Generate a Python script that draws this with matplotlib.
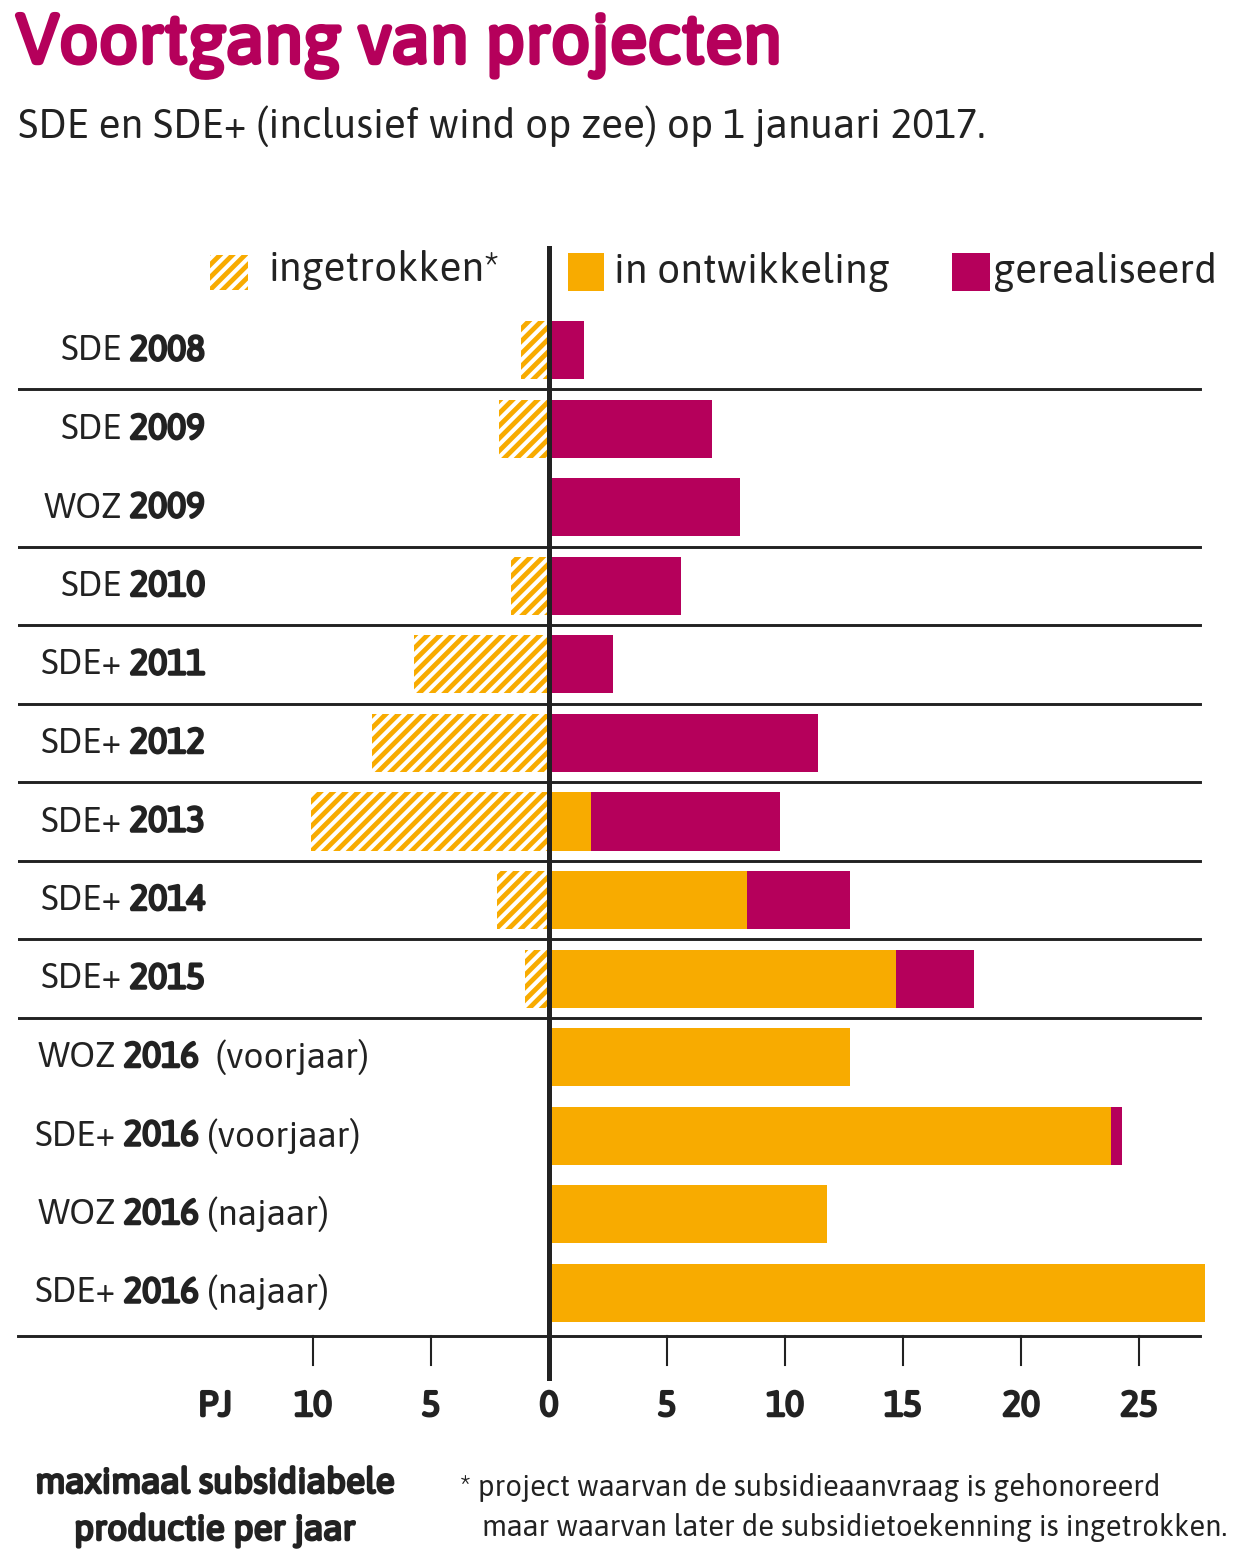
import matplotlib
matplotlib.use("Agg")
import matplotlib.pyplot as plt
import matplotlib.transforms as mtransforms
import matplotlib.patheffects as pe
from matplotlib.patches import Rectangle

plt.rcParams["font.family"] = ["Asap", "Asap Condensed", "DejaVu Sans"]
plt.rcParams["hatch.linewidth"] = 2.3

# ---------------------------------------------------------------------------
# Data (PJ per jaar)
# ---------------------------------------------------------------------------
regeling = ["SDE", "SDE", "WOZ", "SDE", "SDE+", "SDE+", "SDE+", "SDE+", "SDE+",
            "WOZ", "SDE+", "WOZ", "SDE+"]
jaar = ["2008", "2009", "2009", "2010", "2011", "2012", "2013", "2014", "2015",
        "2016", "2016", "2016", "2016"]
toevoeging = ["", "", "", "", "", "", "", "", "",
              " (voorjaar)", "(voorjaar)", "(najaar)", "(najaar)"]
ingetrokken = [1.2, 2.1, 0, 1.6, 5.7, 7.5, 10.1, 2.2, 1.0, 0, 0, 0, 0]
in_ontwikkeling = [0, 0, 0, 0, 0, 0, 1.8, 8.4, 14.7, 12.75, 23.8, 11.8, 27.8]
gerealiseerd = [1.5, 6.9, 8.1, 5.6, 2.7, 11.4, 8.0, 4.35, 3.3, 0, 0.5, 0, 0]
scheidingen = [0, 2, 3, 4, 5, 6, 7, 8]   # lijn onder deze rijen
xticks = [-10, -5, 5, 10, 15, 20, 25]

ORANJE = "#f8ab00"
MAGENTA = "#b5005b"
ZWART = "#222222"

W, H = 1248, 1568
DPI = 150


def fx(px):
    return px / W


def fy(py):
    return 1 - py / H


def vet(kleur=ZWART, lw=1.2):
    # de regular-snede iets aandikken (geen bold beschikbaar in deze breedte)
    return [pe.withStroke(linewidth=lw, foreground=kleur)]


fig = plt.figure(figsize=(W / DPI, H / DPI), dpi=DPI)

# assen: x=0 op pixel 549, 23.6 px per PJ; rijen 78.5 px uit elkaar
ax_l, ax_r, ax_t, ax_b = 18, 1210, 248, 1336
ax = fig.add_axes([fx(ax_l), fy(ax_b), fx(ax_r - ax_l), (ax_b - ax_t) / H])
ax.set_xlim((ax_l - 549) / 23.6, (ax_r - 549) / 23.6)
ax.set_ylim(12.55, -1.3)
ax.axis("off")

rijen = list(range(len(jaar)))
hoogte = 0.74
ax.barh(rijen, [-v for v in ingetrokken], height=hoogte, color="white",
        edgecolor=ORANJE, hatch="////", linewidth=0)
ax.barh(rijen, in_ontwikkeling, height=hoogte, color=ORANJE, linewidth=0)
ax.barh(rijen, gerealiseerd, left=in_ontwikkeling, height=hoogte,
        color=MAGENTA, linewidth=0)

x_rechts = (1200 - 549) / 23.6
for r in scheidingen:
    ax.plot([ax.get_xlim()[0], x_rechts], [r + 0.5, r + 0.5], color=ZWART, lw=1.4)
ax.plot([ax.get_xlim()[0], x_rechts], [12.55, 12.55], color=ZWART, lw=1.4,
        clip_on=False)
# nul-as
ax.plot([0, 0], [-1.3, 13.08], color=ZWART, lw=2.4, clip_on=False, zorder=5)

# schaalstreepjes en labels
trans = mtransforms.blended_transform_factory(ax.transData, fig.transFigure)
for t in xticks:
    ax.plot([t, t], [12.55, 12.92], color=ZWART, lw=1.0, clip_on=False)
for t in [-10, -5, 0, 5, 10, 15, 20, 25]:
    ax.text(t, fy(1406), str(abs(t)), transform=trans, ha="center", va="center",
            fontsize=17, color=ZWART, path_effects=vet())
fig.text(fx(215), fy(1406), "PJ", ha="center", va="center", fontsize=17,
         color=ZWART, path_effects=vet())

# rijlabels: jaar vet, rechts uitgelijnd
fig.canvas.draw()
renderer = fig.canvas.get_renderer()
for i in rijen:
    y = fy(350.5 + 78.5 * i)
    x_jaar = 205 if i < 9 else 199
    tj = fig.text(fx(x_jaar), y, jaar[i], ha="right", va="center", fontsize=17,
                  color=ZWART, path_effects=vet())
    x0 = tj.get_window_extent(renderer).x0
    fig.text(fx(x0 - 7), y, regeling[i], ha="right", va="center",
             fontsize=17, color=ZWART)
    if toevoeging[i]:
        fig.text(fx(x_jaar + 8), y, toevoeging[i], ha="left", va="center",
                 fontsize=17, color=ZWART)

# legenda
fig.patches.append(Rectangle((fx(210), fy(290)), fx(38), 35 / H,
                             transform=fig.transFigure, facecolor="white",
                             edgecolor=ORANJE, hatch="////", linewidth=0))
fig.text(fx(268), fy(270), "ingetrokken*", ha="left", va="center",
         fontsize=19.5, color=ZWART)
fig.patches.append(Rectangle((fx(568), fy(291)), fx(36), 38 / H,
                             transform=fig.transFigure, color=ORANJE, lw=0))
fig.text(fx(614), fy(272), "in ontwikkeling", ha="left", va="center",
         fontsize=19.5, color=ZWART)
fig.patches.append(Rectangle((fx(952), fy(291)), fx(38), 38 / H,
                             transform=fig.transFigure, color=MAGENTA, lw=0))
fig.text(fx(993), fy(272), "gerealiseerd", ha="left", va="center",
         fontsize=19.5, color=ZWART)

# titels
fig.text(fx(16), fy(44), "Voortgang van projecten", ha="left", va="center",
         fontsize=33.5, color=MAGENTA, path_effects=vet(MAGENTA, 2.0))
fig.text(fx(18), fy(126), "SDE en SDE+ (inclusief wind op zee) op 1 januari 2017.",
         ha="left", va="center", fontsize=19.5, color=ZWART)

# onderschrift
fig.text(fx(215), fy(1483), "maximaal subsidiabele", ha="center", va="center",
         fontsize=17, color=ZWART, path_effects=vet())
fig.text(fx(215), fy(1530), "productie per jaar", ha="center", va="center",
         fontsize=17, color=ZWART, path_effects=vet())
fig.text(fx(460), fy(1488), "* project waarvan de subsidieaanvraag is gehonoreerd",
         ha="left", va="center", fontsize=14, color=ZWART)
fig.text(fx(482), fy(1527), "maar waarvan later de subsidietoekenning is ingetrokken.",
         ha="left", va="center", fontsize=14, color=ZWART)

fig.savefig("out.png", dpi=DPI, facecolor="white")
